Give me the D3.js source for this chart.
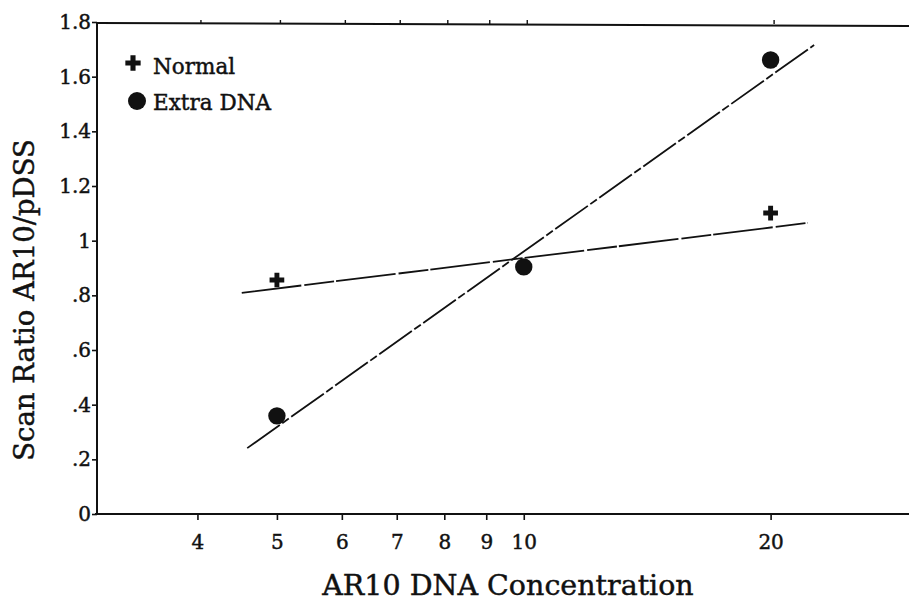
<!DOCTYPE html>
<html>
<head>
<meta charset="utf-8">
<script src="https://cdn.jsdelivr.net/npm/d3@7"></script>
<style>
  html, body { margin: 0; padding: 0; background: #fff; }
  svg { display: block; }
  text { font-family: "DejaVu Serif", "Liberation Serif", serif; fill: #111; stroke: #111; stroke-width: 0.45px; }
</style>
</head>
<body>
<svg id="chart" width="909" height="602"></svg>
<script>
// ---- data ----
const concentrations = [5, 10, 20];
const normalConc = [5, 20];
const normalValues = [0.856, 1.101];
const extraValues = [0.359, 0.904, 1.661];
// fitted lines (end points)
const normalFitX = [4.53, 22.2];
const normalFitY = [0.809, 1.065];
const extraFitX = [4.60, 22.6];
const extraFitY = [0.241, 1.716];
// axis ticks
const xTickValues = [4, 5, 6, 7, 8, 9, 10, 20];
const xTickLabels = ["4", "5", "6", "7", "8", "9", "10", "20"];
const yTickValues = [0, 0.2, 0.4, 0.6, 0.8, 1.0, 1.2, 1.4, 1.6, 1.8];
const yTickLabels = ["0", ".2", ".4", ".6", ".8", "1", "1.2", "1.4", "1.6", "1.8"];
const seriesNames = ["Normal", "Extra DNA"];
const xTitle = "AR10 DNA Concentration";
const yTitle = "Scan Ratio AR10/pDSS";

// ---- layout ----
const svg = d3.select("#chart");
const padL = 97, padT = 23, padB = 514, padR = 909;

const x = d3.scaleLog().domain([3, 30]).range([95, 915]);
const y = d3.scaleLinear().domain([0, 1.8]).range([padB, 22]);

const ink = "#111";

// axes
const xAxis = d3.axisBottom(x).tickValues(xTickValues)
  .tickFormat((d, i) => xTickLabels[i]).tickSizeInner(6).tickSizeOuter(0).tickPadding(15);
const gx = svg.append("g").attr("transform", `translate(0,${padB})`).call(xAxis);
gx.select(".domain").remove();
gx.selectAll(".tick line").attr("stroke", ink).attr("stroke-width", 1.6);
gx.selectAll(".tick text").attr("font-size", 20).attr("fill", ink).attr("stroke", ink)
  .style("font-family", "'DejaVu Serif', serif");

const xTop = d3.axisTop(x).tickValues(xTickValues).tickFormat("").tickSizeInner(4).tickSizeOuter(0);
const gxt = svg.append("g").attr("transform", `translate(3,${padT + 1})`).call(xTop);
gxt.select(".domain").remove();
gxt.selectAll(".tick line").attr("stroke", ink).attr("stroke-width", 1.4);

const yAxis = d3.axisLeft(y).tickValues(yTickValues)
  .tickFormat((d, i) => yTickLabels[i]).tickSizeInner(5).tickSizeOuter(0).tickPadding(1);
const gy = svg.append("g").attr("transform", `translate(${padL},0)`).call(yAxis);
gy.select(".domain").remove();
gy.selectAll(".tick line").attr("stroke", ink).attr("stroke-width", 1.6);
gy.selectAll(".tick text").attr("font-size", 20).attr("fill", ink).attr("stroke", ink)
  .style("font-family", "'DejaVu Serif', serif");

// frame lines (left, bottom, top)
svg.append("line").attr("x1", padL).attr("x2", padL).attr("y1", y(1.8)).attr("y2", padB)
  .attr("stroke", ink).attr("stroke-width", 2);
svg.append("line").attr("x1", 95).attr("x2", padR).attr("y1", padB).attr("y2", padB)
  .attr("stroke", ink).attr("stroke-width", 2.2);
svg.append("line").attr("x1", padL).attr("x2", padR).attr("y1", padT).attr("y2", padT + 3)
  .attr("stroke", ink).attr("stroke-width", 2);

// fit lines
const lineGen = d3.line().x(d => x(d[0])).y(d => y(d[1]));
svg.append("path").datum(d3.zip(normalFitX, normalFitY)).attr("d", lineGen)
  .attr("fill", "none").attr("stroke", ink).attr("stroke-width", 1.8)
  .attr("stroke-dasharray", "60,3,30,2");
svg.append("path").datum(d3.zip(extraFitX, extraFitY)).attr("d", lineGen)
  .attr("fill", "none").attr("stroke", ink).attr("stroke-width", 1.8)
  .attr("stroke-dasharray", "40,3,8,3");

// points
const cross = d3.symbol().type(d3.symbolCross).size(120);
svg.append("g").selectAll("path").data(d3.zip(normalConc, normalValues)).join("path")
  .attr("d", cross).attr("fill", ink)
  .attr("transform", d => `translate(${x(d[0])},${y(d[1])})`);
svg.append("g").selectAll("circle").data(d3.zip(concentrations, extraValues)).join("circle")
  .attr("cx", d => x(d[0])).attr("cy", d => y(d[1])).attr("r", 8.7).attr("fill", ink);

// legend
const lg = svg.append("g");
lg.append("path").attr("d", d3.symbol().type(d3.symbolCross).size(130)())
  .attr("fill", ink).attr("transform", "translate(133,63)");
lg.append("circle").attr("cx", 137).attr("cy", 101).attr("r", 9).attr("fill", ink);
lg.selectAll("text").data(seriesNames).join("text")
  .attr("x", 153).attr("y", (d, i) => [74, 110][i])
  .attr("font-size", 21.5).text(d => d);

// axis titles
svg.append("text").attr("x", 508).attr("y", 595).attr("text-anchor", "middle")
  .attr("font-size", 28.5).text(xTitle);
svg.append("text").attr("transform", "translate(34,300) rotate(-90)")
  .attr("text-anchor", "middle").attr("font-size", 27.5).text(yTitle);
</script>
</body>
</html>
